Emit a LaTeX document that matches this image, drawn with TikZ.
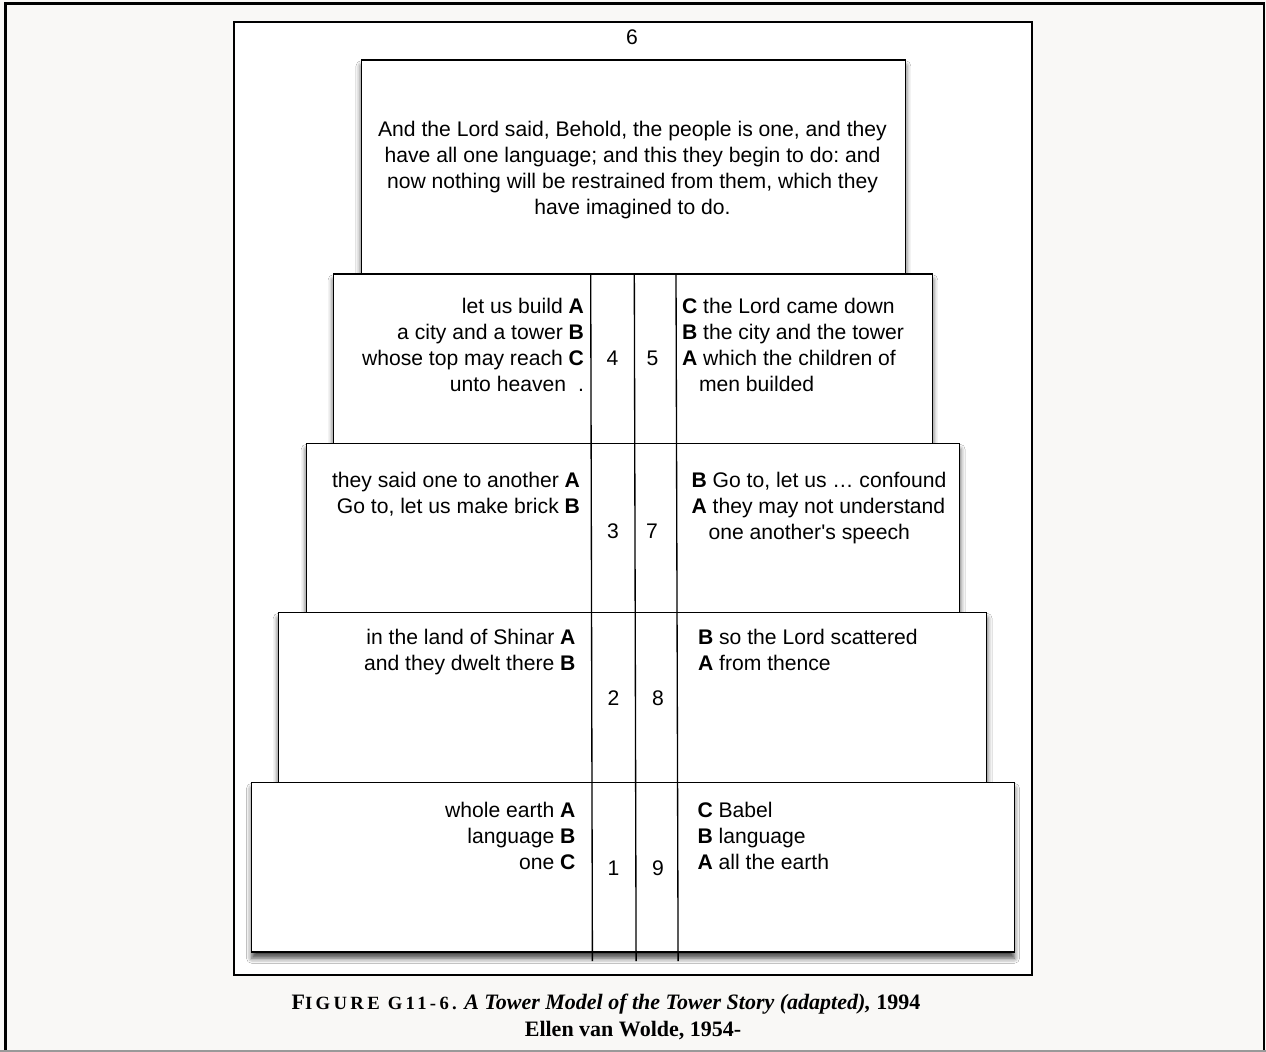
\documentclass[tikz,border=0pt]{standalone}
\usepackage{fontspec}
\setmainfont{Liberation Sans}
\newfontfamily\plainsans{Liberation Sans}
\newfontfamily\capfont{Liberation Serif}
\newfontfamily\capsc[LetterSpace=18]{Liberation Serif}
\usetikzlibrary{shadows.blur}
\definecolor{pagebg}{HTML}{F9F8F6}
\tikzset{
  tier/.style={draw=black, line width=1pt, fill=white,
    blur shadow={shadow xshift=0pt, shadow yshift=-4.5pt, shadow blur radius=4pt, shadow opacity=75}},
  txt/.style={font=\frenchspacing\fontsize{15.85}{19.5}\selectfont, inner sep=0pt, outer sep=0pt},
  numtxt/.style={txt, anchor=base},
  captxt/.style={font=\capfont\bfseries\fontsize{16.5}{20}\selectfont, inner sep=0pt, anchor=base},
  divline/.style={draw=black, line width=1pt}
}
\newcommand{\ind}{\hspace*{12.75pt}}
\begin{document}
\begin{tikzpicture}[x=0.75pt,y=-0.75pt]
\useasboundingbox (0,0) rectangle (1266,1052);
\fill[pagebg] (0,0) rectangle (1266,1052);
\draw[black, line width=1.9pt] (5.3,1052) -- (5.3,3.7) -- (1264,3.7) -- (1264,1052);
\draw[gray!80, line width=1.5pt] (0,1050.5) -- (1266,1050.5);
% inner frame
\draw[black, line width=1.5pt, fill=white] (234,21.7) rectangle (1031.7,974.7);
\node[numtxt] (six) at (632,45) {6};
% tiers
\path[tier] (361.3,60) rectangle (905.5,273.8);
\path[tier] (333.4,274) rectangle (932.5,443.5);
\path[tier] (306.5,443.5) rectangle (959.8,612.5);
\path[tier] (278.5,612.5) rectangle (986.8,782.6);
\path[tier] (251.8,782.6) rectangle (1014.3,952);
% divider lines
\coordinate (d1t) at (590.7,274); \coordinate (d1b) at (592.4,961);
\coordinate (d2t) at (634.3,274); \coordinate (d2b) at (636.1,961);
\coordinate (d3t) at (676.0,274); \coordinate (d3b) at (678.1,961);
\draw[divline] (d1t) -- (d1b);
\draw[divline] (d2t) -- (d2b);
\draw[divline] (d3t) -- (d3b);
% top text
\node[txt, anchor=north, align=center] (top) at (632.5,117.8)
 {\strut And the Lord said, Behold, the people is one, and they\\
  \strut have all one language; and this they begin to do: and\\
  \strut now nothing will be restrained from them, which they\\
  \strut have imagined to do.};
% tier 4/5
\node[txt, anchor=north east, align=right] (l4) at (584,294.8)
 {\strut let us build \textbf{A}\\
  \strut a city and a tower \textbf{B}\\
  \strut whose top may reach \textbf{C}\\
  \strut unto heaven\hspace{9pt}.};
\node[txt, anchor=north west, align=left] (r5) at (682,294.8)
 {\strut\textbf{C} the Lord came down\\
  \strut\textbf{B} the city and the tower\\
  \strut\textbf{A} which the children of\\
  \strut\ind men builded};
\node[numtxt] (n4) at (612.5,365) {4};
\node[numtxt] (n5) at (652.5,365) {5};
% tier 3/7
\node[txt, anchor=north east, align=right] (l3) at (580,468.8)
 {\strut they said one to another \textbf{A}\\
  \strut Go to, let us make brick \textbf{B}};
\node[txt, anchor=north west, align=left] (r7) at (691.5,468.8)
 {\strut\textbf{B} Go to, let us \dots\ confound\\
  \strut\textbf{A} they may not understand\\
  \strut\ind one another{\plainsans '}s speech};
\node[numtxt] (n3) at (613,538) {3};
\node[numtxt] (n7) at (652,538) {7};
% tier 2/8
\node[txt, anchor=north east, align=right] (l2) at (575.5,625.8)
 {\strut in the land of Shinar \textbf{A}\\
  \strut and they dwelt there \textbf{B}};
\node[txt, anchor=north west, align=left] (r8) at (698,625.8)
 {\strut\textbf{B} so the Lord scattered\\
  \strut\textbf{A} from thence};
\node[numtxt] (n2) at (613.5,705) {2};
\node[numtxt] (n8) at (658,705) {8};
% tier 1/9
\node[txt, anchor=north east, align=right] (l1) at (575.5,798.8)
 {\strut whole earth \textbf{A}\\
  \strut language \textbf{B}\\
  \strut one \textbf{C}};
\node[txt, anchor=north west, align=left] (r9) at (697.5,798.8)
 {\strut\textbf{C} Babel\\
  \strut\textbf{B} language\\
  \strut\textbf{A} all the earth};
\node[numtxt] (n1) at (613.5,875) {1};
\node[numtxt] (n9) at (658,875) {9};
% caption
\node[captxt] (cap1) at (606,1009)
 {F{\capsc\bfseries\fontsize{14}{20}\selectfont IGURE G11-6.} \textit{A Tower Model of the Tower Story (adapted),} 1994};
\node[captxt] (cap2) at (633,1036.5) {Ellen van Wolde, 1954-};
\end{tikzpicture}
\end{document}
